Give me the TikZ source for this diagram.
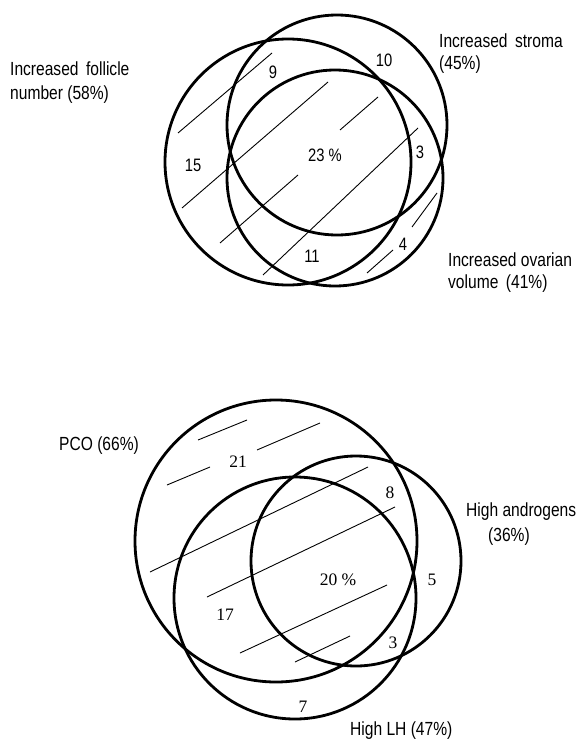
\documentclass[tikz,border=0pt]{standalone}
\usepackage{fontspec}
\newfontfamily\narrowsans[FakeStretch=0.82]{Liberation Sans}
\newfontfamily\numserif{Liberation Serif}

\begin{document}
\begin{tikzpicture}[x=1pt,y=-1pt,
  ring/.style={line width=2.8pt},
  hatch/.style={line width=0.9pt},
  lbl/.style={font=\narrowsans\fontsize{19}{22}\selectfont, inner sep=0pt, anchor=base west},
  numsans/.style={font=\narrowsans\fontsize{18}{20}\selectfont, inner sep=0pt},
  numserif/.style={font=\numserif\fontsize{17.5}{20}\selectfont, inner sep=0pt}]
\useasboundingbox (0,0) rectangle (581,744);

% ---------- upper diagram: ovarian features ----------
\coordinate (cF) at (288,162);
\coordinate (cS) at (337,125);
\coordinate (cV) at (335,178);
\draw[ring] (cF) circle[radius=123];
\draw[ring] (cS) circle[radius=110];
\draw[ring] (cV) circle[radius=108];

% hatching
\coordinate (h1a) at (178,133); \coordinate (h1b) at (272,53);
\coordinate (h2a) at (182,208); \coordinate (h2b) at (328,82);
\coordinate (h3a) at (220,243); \coordinate (h3b) at (298,175);
\coordinate (h4a) at (340,130); \coordinate (h4b) at (378,97);
\coordinate (h5a) at (263,275); \coordinate (h5b) at (418,128);
\coordinate (h6a) at (367,273); \coordinate (h6b) at (393,250);
\coordinate (h7a) at (412,227); \coordinate (h7b) at (437,193);
\foreach \i in {1,...,7} \draw[hatch] (h\i a) -- (h\i b);

\node[numsans] (n9)  at (273,72)  {9};
\node[numsans] (n10) at (384,60)  {10};
\node[numsans] (n15) at (193,165) {15};
\node[numsans] (n23) at (325,155) {23 \%};
\node[numsans] (n3)  at (420,152) {3};
\node[numsans] (n11) at (312,256) {11};
\node[numsans] (n4)  at (403,244) {4};

\node[lbl] (lF1) at (10,75)   {Increased\, follicle};
\node[lbl] (lF2) at (10,99)   {number (58\%)};
\node[lbl] (lS1) at (439,47)  {Increased\, stroma};
\node[lbl] (lS2) at (439,69)  {(45\%)};
\node[lbl] (lV1) at (448,266) {Increased ovarian};
\node[lbl] (lV2) at (448,288) {volume\, (41\%)};

% ---------- lower diagram: clinical features ----------
\coordinate (cP) at (276,541);
\coordinate (cL) at (295,598);
\coordinate (cA) at (356,561);
\draw[ring] (cP) circle[radius=141];
\draw[ring] (cL) circle[radius=121];
\draw[ring] (cA) circle[radius=105];

\coordinate (g1a) at (198,440); \coordinate (g1b) at (247,420);
\coordinate (g2a) at (257,450); \coordinate (g2b) at (320,423);
\coordinate (g3a) at (167,485); \coordinate (g3b) at (210,467);
\coordinate (g4a) at (150,572); \coordinate (g4b) at (368,467);
\coordinate (g5a) at (207,597); \coordinate (g5b) at (395,507);
\coordinate (g6a) at (240,653); \coordinate (g6b) at (387,585);
\coordinate (g7a) at (295,662); \coordinate (g7b) at (350,636);
\foreach \i in {1,...,7} \draw[hatch] (g\i a) -- (g\i b);

\node[numserif] (m21) at (238,462) {21};
\node[numserif] (m8)  at (390,493) {8};
\node[numserif] (m20) at (338,580) {20 \%};
\node[numserif] (m5)  at (432,580) {5};
\node[numserif] (m17) at (225,615) {17};
\node[numserif] (m3)  at (393,643) {3};
\node[numserif] (m7)  at (303,707) {7};

\node[lbl] (lP)  at (59,450)  {PCO (66\%)};
\node[lbl] (lA1) at (466,516) {High androgens};
\node[lbl] (lA2) at (488,541) {(36\%)};
\node[lbl] (lL)  at (350,735) {High LH (47\%)};
\end{tikzpicture}
\end{document}
